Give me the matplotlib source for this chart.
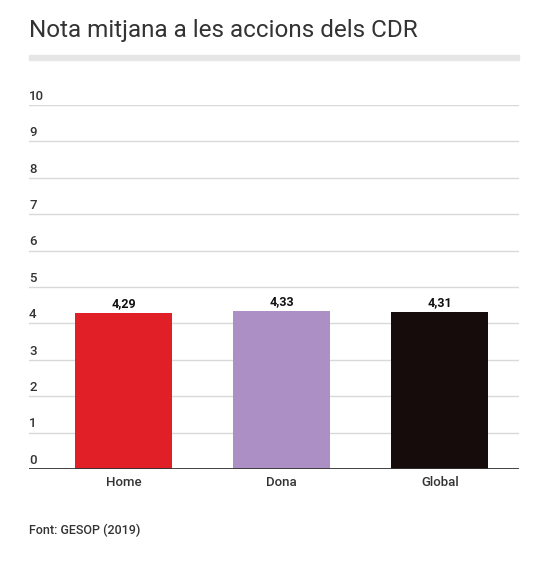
import matplotlib.pyplot as plt

categories = ["Home", "Dona", "Global"]
values = [4.29, 4.33, 4.31]
value_labels = ["4,29", "4,33", "4,31"]
bar_colors = ["#e01f26", "#ab8fc5", "#170c0c"]
yticks = list(range(0, 11))

plt.rcParams["font.family"] = ["Roboto", "DejaVu Sans"]

W, H = 547, 571
fig = plt.figure(figsize=(W / 100, H / 100), dpi=100)

# axes: x 29..519 px, y (value 0) 469 px .. (value 10) 105 px
left, right = 29, 519
bottom_px, top_px = 469, 105
ax = fig.add_axes([left / W, 1 - bottom_px / H, (right - left) / W, (bottom_px - top_px) / H])

x = list(range(len(categories)))
ax.bar(x, values, width=0.614, color=bar_colors, zorder=3)
ax.set_ylim(0, 10)
ax.set_xlim(-0.598, 2.5)

for xi, v, lab in zip(x, values, value_labels):
    ax.text(xi, v + 0.08, lab, ha="center", va="bottom", fontsize=9,
            fontweight="bold", color="#111111", zorder=4)

for t in yticks:
    ax.axhline(t, color="#d9d9d9", lw=1, zorder=1)
    ax.text(-0.598, t + 0.06, str(t), ha="left", va="bottom", fontsize=9.5,
            fontweight="medium", color="#333333")

ax.axhline(0, color="#333333", lw=2, zorder=5)

ax.set_yticks([])
ax.set_xticks(x)
ax.set_xticklabels(categories, fontsize=9.5, fontweight="medium", color="#333333")
ax.tick_params(axis="x", length=0, pad=5)
for s in ax.spines.values():
    s.set_visible(False)

fig.text(29 / W, 1 - 30 / H, "Nota mitjana a les accions dels CDR", fontsize=17.5,
         color="#333333", ha="left", va="center")
fig.patches.append(plt.Rectangle((29 / W, 1 - 60 / H), (519 - 29) / W, 5 / H,
                                 transform=fig.transFigure, color="#e6e6e6"))
fig.text(29 / W, 1 - 530 / H, "Font: GESOP (2019)", fontsize=9, fontweight="medium",
         color="#333333", ha="left", va="center")

fig.savefig("out.png", dpi=100)
